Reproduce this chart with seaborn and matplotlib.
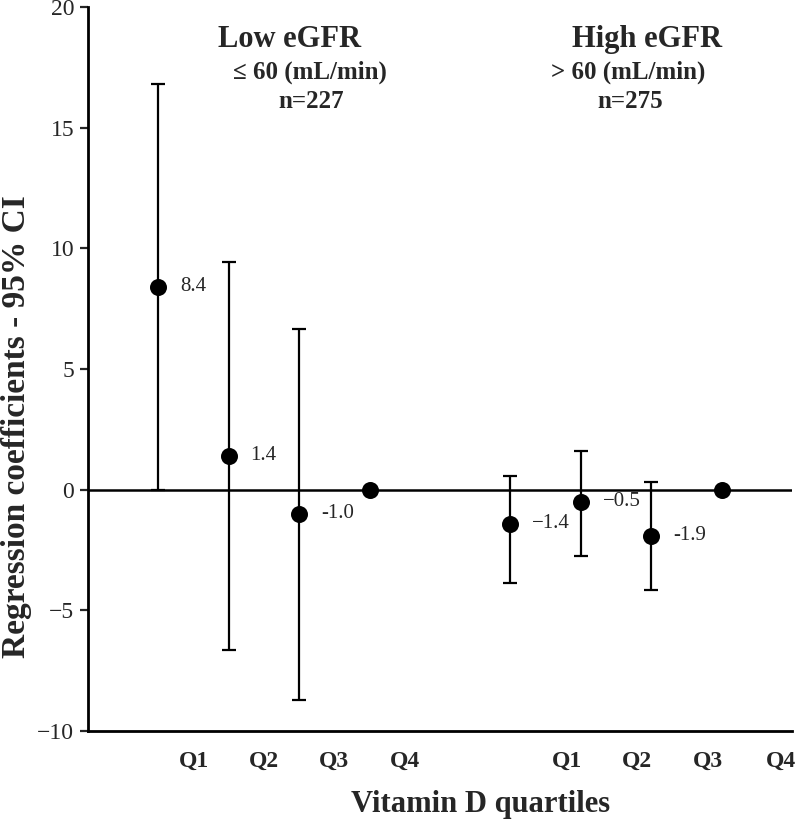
"""Regression coefficients (95% CI) by vitamin D quartile, low vs high eGFR."""

import matplotlib
matplotlib.use('Agg')
import matplotlib.pyplot as plt
import seaborn as sns
import pandas as pd

# data
groups = ["Low eGFR"] * 4 + ["High eGFR"] * 4
quartiles = ["Q1", "Q2", "Q3", "Q4"] * 2
x_pos = [1, 2, 3, 4, 6, 7, 8, 9]
coef = [8.4, 1.4, -1.0, 0.0, -1.4, -0.5, -1.9, 0.0]
ci_low = [0.0, -6.65, -8.7, 0.0, -3.85, -2.75, -4.15, 0.0]
ci_high = [16.8, 9.45, 6.65, 0.0, 0.55, 1.6, 0.3, 0.0]
value_labels = ["8.4", "1.4", "-1.0", None, "\u22121.4", "\u22120.5", "-1.9", None]
tick_pos = [1.5, 2.5, 3.5, 4.5, 6.8, 7.8, 8.8, 9.85]

df = pd.DataFrame({"group": groups, "quartile": quartiles, "x": x_pos,
                   "coef": coef, "lo": ci_low, "hi": ci_high})

sns.set_theme(style="ticks")
plt.rcParams['font.family'] = ['Liberation Serif', 'DejaVu Serif']

fig = plt.figure(figsize=(8, 8.27), dpi=100)
ax = fig.add_axes([0.11, 0.116, 0.88, 0.8755])

# error bars (only where a CI exists)
has_ci = df[df["hi"] != df["lo"]]
ax.errorbar(has_ci["x"], has_ci["coef"],
            yerr=[has_ci["coef"] - has_ci["lo"], has_ci["hi"] - has_ci["coef"]],
            fmt="none", ecolor="black", elinewidth=1.6, capsize=5, capthick=1.6, zorder=2)

sns.scatterplot(data=df, x="x", y="coef", color="black", s=150,
                edgecolor="black", linewidth=0, ax=ax, zorder=3, legend=False)

ax.axhline(0, color="black", lw=1.8, zorder=1)

for xi, yi, lab in zip(df["x"], df["coef"], value_labels):
    if lab:
        ax.text(xi + 0.31, yi, lab, fontsize=15, va="center", ha="left")

ax.set_xlim(0, 10)
ax.set_ylim(-10, 20)
ax.set_yticks([-10, -5, 0, 5, 10, 15, 20])
ax.set_yticklabels(["\u221210", "\u22125", "0", "5", "10", "15", "20"], fontsize=17)
ax.set_xticks(tick_pos)
ax.set_xticklabels(quartiles, fontsize=17, fontweight="bold")
ax.tick_params(axis="x", length=0, pad=14)
ax.tick_params(axis="y", length=6, width=1.6, direction="out", pad=4)

sns.despine(ax=ax)
for sp in ["left", "bottom"]:
    ax.spines[sp].set_linewidth(2)
    ax.spines[sp].set_color("black")

ax.set_ylabel("Regression coefficients - 95% CI", fontsize=24, fontweight="bold")
ax.yaxis.set_label_coords(-0.102, 0.421)
ax.yaxis.label.set_va("center")
ax.set_xlabel("Vitamin D quartiles", fontsize=22, fontweight="bold")
ax.xaxis.set_label_coords(0.558, -0.102)
ax.xaxis.label.set_va("center")

# group headings
ax.text(2.87, 18.65, "Low eGFR", fontsize=22, fontweight="bold", ha="center", va="center")
ax.text(3.15, 17.3, "\u2264 60 (mL/min)", fontsize=18, fontweight="bold", ha="center", va="center")
ax.text(3.17, 16.1, "n=227", fontsize=18, fontweight="bold", ha="center", va="center")
ax.text(7.94, 18.65, "High eGFR", fontsize=22, fontweight="bold", ha="center", va="center")
ax.text(7.68, 17.3, "> 60 (mL/min)", fontsize=18, fontweight="bold", ha="center", va="center")
ax.text(7.7, 16.1, "n=275", fontsize=18, fontweight="bold", ha="center", va="center")

fig.savefig("out.png", dpi=100)
